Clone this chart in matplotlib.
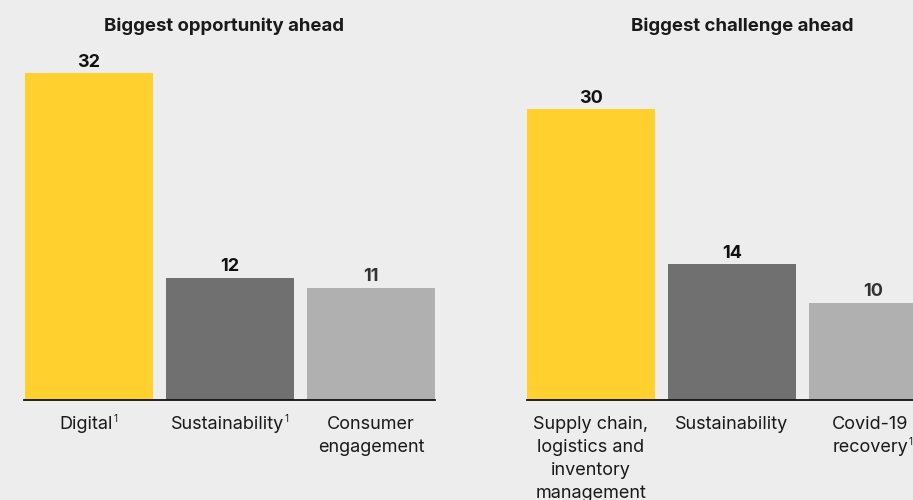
import matplotlib
matplotlib.use('Agg')
import matplotlib.pyplot as plt

# data
opp_labels = ['Digital', 'Sustainability', 'Consumer\nengagement']
opp_values = [32, 12, 11]
opp_notes = [True, True, False]      # footnote mark "1" after label
chal_labels = ['Supply chain,\nlogistics and\ninventory\nmanagement', 'Sustainability', 'Covid-19\nrecovery']
chal_values = [30, 14, 10]
chal_notes = [False, False, True]

bar_colors = ['#ffd02e', '#707070', '#b0b0b0']
value_colors = ['#111111', '#111111', '#333333']
bg = '#ededed'
txt = '#1a1a1a'

plt.rcParams['font.family'] = ['Inter', 'DejaVu Sans']

W, H = 913, 500
PX = 72 / 100  # points per pixel
fig = plt.figure(figsize=(W / 100, H / 100), dpi=100, facecolor=bg)
renderer = fig.canvas.get_renderer()


def text_width(s, size):
    t = fig.text(0, 0, s, fontsize=size)
    w = t.get_window_extent(renderer).width
    t.remove()
    return w


def make_panel(rect_px, xlim, ylim, labels, values, notes, title, title_x):
    l, b, w, h = rect_px
    ax = fig.add_axes([l / W, b / H, w / W, h / H])
    ax.set_facecolor(bg)
    x = range(len(values))
    bars = ax.bar(x, values, width=0.908, color=bar_colors, zorder=2)
    for i, (r, v) in enumerate(zip(bars, values)):
        ax.annotate(str(v), (r.get_x() + r.get_width() / 2, v), xytext=(0, 2),
                    textcoords='offset points', ha='center', va='bottom',
                    fontsize=13, fontweight='bold', color=value_colors[i])
    ax.set_xlim(*xlim)
    ax.set_ylim(*ylim)
    ax.set_xticks([])
    ax.set_yticks([])
    for s in ['left', 'right', 'top']:
        ax.spines[s].set_visible(False)
    ax.spines['bottom'].set_linewidth(1.3)
    ax.spines['bottom'].set_color('#111111')
    fig.text(title_x / W, 1 - 26 / H, title, ha='center', va='center',
             fontsize=13.4, fontweight='bold', color=txt)

    # category labels, nudged left when a footnote mark follows
    for i, lab in enumerate(labels):
        shift = -2.5 if notes[i] else 0
        t = ax.annotate(lab, (i, 0), xycoords=('data', 'axes fraction'),
                        xytext=(shift * PX, -11.5), textcoords='offset points',
                        ha='center', va='top', fontsize=13, color=txt,
                        linespacing=1.47, annotation_clip=False)
        if notes[i]:
            fig.canvas.draw()
            bb = t.get_window_extent(renderer)
            cx = ax.transData.transform((i, 0))[0] + shift
            xr = cx + text_width(lab.split('\n')[-1], 13) / 2
            fig.text(xr / W, (bb.y0 + 11) / H, '1', fontsize=7,
                     color=txt, ha='left', va='baseline')
    return ax


make_panel((23.7, 100, 411.3, 400), (-0.463, 2.454), (0, 39.2),
           opp_labels, opp_values, opp_notes, 'Biggest opportunity ahead', 224)
make_panel((527, 100, 386, 400), (-0.454, 2.284), (0, 41.3),
           chal_labels, chal_values, chal_notes, 'Biggest challenge ahead', 742)

fig.savefig('out.png', dpi=100, facecolor=bg)
